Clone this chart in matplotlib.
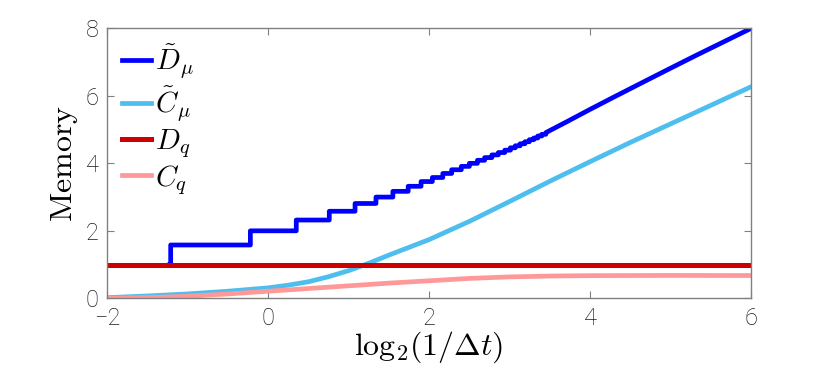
import numpy as np
import matplotlib
matplotlib.use("Agg")
import matplotlib.pyplot as plt

plt.rcParams['mathtext.fontset'] = 'cm'

# D~mu : staircase part (step edges and levels), then the smooth tail
stair_edges = [-1.22, -1.21, -0.22, 0.35, 0.76, 1.08, 1.34, 1.55, 1.74, 1.90,
               2.04, 2.17, 2.28, 2.40, 2.50, 2.60, 2.69, 2.78, 2.86, 2.94,
               3.01, 3.07, 3.13, 3.19, 3.245, 3.30, 3.35, 3.40, 3.45]
stair_levels = [1.0, 1.58, 2.0, 2.32, 2.58, 2.81, 3.0, 3.17, 3.32, 3.46,
                3.58, 3.70, 3.81, 3.91, 4.0, 4.09, 4.17, 4.25, 4.32, 4.39,
                4.46, 4.52, 4.58, 4.64, 4.70, 4.75, 4.81, 4.86]
d_tail_x = [3.45, 3.7, 4.0, 4.3, 4.62, 5.0, 5.3, 5.65, 6.0]
d_tail_y = [4.91, 5.22, 5.60, 5.97, 6.36, 6.82, 7.18, 7.59, 8.0]

# C~mu
c_x = [-2.0, -1.5, -1.0, -0.5, 0.0, 0.25, 0.5, 0.75, 1.0, 1.25, 1.5, 1.75, 2.0,
       2.25, 2.5, 3.0, 3.5, 4.0, 4.5, 5.0, 5.5, 6.0]
c_y = [0.02, 0.07, 0.13, 0.21, 0.31, 0.39, 0.49, 0.64, 0.82, 1.04, 1.28, 1.51, 1.74,
       2.01, 2.28, 2.87, 3.47, 4.05, 4.62, 5.17, 5.72, 6.27]

# Dq (constant)
dq_x = [-2.0, 6.0]
dq_y = [1.0, 1.0]

# Cq
cq_x = [-2.0, -1.5, -1.0, -0.5, 0.0, 0.5, 1.0, 1.5, 2.0, 2.5, 3.0, 3.5, 4.0, 5.0, 6.0]
cq_y = [0.0, 0.02, 0.06, 0.13, 0.21, 0.29, 0.37, 0.45, 0.52, 0.59, 0.635, 0.66, 0.672, 0.678, 0.675]

labels = [r'$\tilde{D}_\mu$', r'$\tilde{C}_\mu$', r'$D_q$', r'$C_q$']
colors = ['#0000FF', '#4DBEEE', '#CC0000', '#FF9999']

# build the staircase path
sx, sy = [], []
for i in range(len(stair_levels)):
    sx += [stair_edges[i], stair_edges[i + 1]]
    sy += [stair_levels[i], stair_levels[i]]
d_x = sx + d_tail_x
d_y = sy + d_tail_y

fig = plt.figure(figsize=(8.3, 3.76), dpi=100)
ax = fig.add_axes([0.129, 0.2066, 0.776, 0.718])

ax.plot(d_x, d_y, color=colors[0], lw=3.4, label=labels[0])
ax.plot(c_x, c_y, color=colors[1], lw=3.4, label=labels[1])
ax.plot(dq_x, dq_y, color=colors[2], lw=3.6, label=labels[2])
ax.plot(cq_x, cq_y, color=colors[3], lw=3.4, label=labels[3])

ax.set_xlim(-2, 6)
ax.set_ylim(0, 8)
ax.set_xticks([-2, 0, 2, 4, 6])
ax.set_yticks([0, 2, 4, 6, 8])

for s in ax.spines.values():
    s.set_color('#808080')
    s.set_linewidth(1.0)
ax.tick_params(direction='in', length=5, width=0.8, color='#808080',
               top=True, right=True, labelsize=17, labelcolor='#1a1a1a', pad=6)
for lab in ax.get_xticklabels() + ax.get_yticklabels():
    lab.set_family('Roboto')
    lab.set_weight('light')

ax.set_xlabel(r'$\mathrm{log}_2(1/\Delta t)$', fontsize=23, labelpad=0)
ax.set_ylabel(r'$\mathrm{Memory}$', fontsize=23, labelpad=4)

leg = ax.legend(loc='upper left', frameon=False, fontsize=21, handlelength=1.0,
                handletextpad=0.15, labelspacing=0.1, borderaxespad=0.1,
                bbox_to_anchor=(0.0, 1.0))

fig.savefig('out.png', dpi=100)
